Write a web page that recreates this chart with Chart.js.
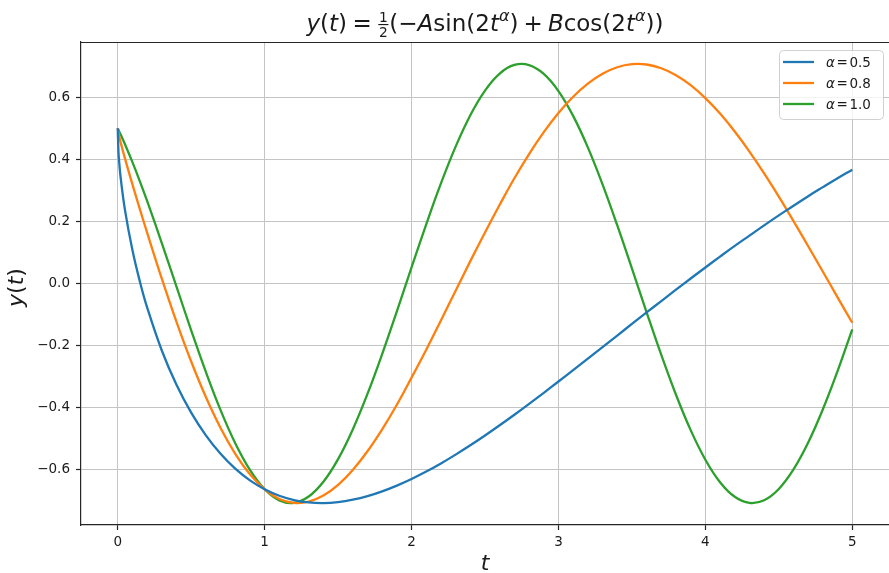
<!DOCTYPE html>
<html>
<head>
<meta charset="utf-8">
<script src="https://cdn.jsdelivr.net/npm/chart.js@4/dist/chart.umd.min.js"></script>
<style>
  html, body { margin: 0; padding: 0; background: #ffffff; }
  canvas { display: block; }
</style>
</head>
<body>
<canvas id="chart" width="889" height="573" style="width:889px;height:573px"></canvas>
<script>
// Sample times t
const tValues = [0, 0.005, 0.01, 0.02, 0.05, 0.1, 0.15, 0.2,
  0.3, 0.4, 0.5, 0.6, 0.7, 0.8, 0.9, 1.0, 1.1, 1.2, 1.3, 1.4, 1.5, 1.6, 1.7, 1.8, 1.9,
  2.0, 2.1, 2.2, 2.3, 2.4, 2.5, 2.6, 2.7, 2.8, 2.9, 3.0, 3.1, 3.2, 3.3, 3.4, 3.5, 3.6,
  3.7, 3.8, 3.9, 4.0, 4.1, 4.2, 4.3, 4.4, 4.5, 4.6, 4.7, 4.8, 4.9, 5.0];

// y(t) for alpha = 0.5
const yAlpha05 = [0.5, 0.4245, 0.3907, 0.3406, 0.2347, 0.1078, 0.0077, -0.0769,
  -0.2157, -0.3263, -0.4160, -0.4891, -0.5486, -0.5964, -0.6341, -0.6627, -0.6836, -0.6974,
  -0.7051, -0.7071, -0.7040, -0.6964, -0.6850, -0.6695, -0.6510,
  -0.6297, -0.6058, -0.5796, -0.5512, -0.5212, -0.4896, -0.4567, -0.4227, -0.3878, -0.3520,
  -0.3157, -0.2790, -0.2420, -0.2048, -0.1676, -0.1303, -0.0932,
  -0.0565, -0.0200, 0.0161, 0.0516, 0.0867, 0.1211, 0.1542, 0.1873, 0.2194, 0.2502,
  0.2812, 0.3104, 0.3391, 0.3667];

// y(t) for alpha = 0.8
const yAlpha08 = [0.5, 0.4854, 0.4743, 0.4544, 0.4012, 0.3193, 0.2405, 0.1637,
  0.0156, -0.1236, -0.2513, -0.3657, -0.4653, -0.5484, -0.6145, -0.6627, -0.6940, -0.7065,
  -0.7028, -0.6831, -0.6485, -0.6003, -0.5402, -0.4696, -0.3905,
  -0.3031, -0.2132, -0.1189, -0.0232, 0.0721, 0.1645, 0.2535, 0.3389, 0.4169, 0.4874,
  0.5492, 0.6016, 0.6439, 0.6756, 0.6964, 0.7063, 0.7053,
  0.6933, 0.6709, 0.6389, 0.5971, 0.5472, 0.4894, 0.4249, 0.3547, 0.2797, 0.2009,
  0.1200, 0.0379, -0.0446, -0.1264];

// y(t) for alpha = 1.0
const yAlpha10 = [0.5, 0.4950, 0.4899, 0.4796, 0.4476, 0.3907, 0.3299, 0.2658,
  0.1304, -0.0103, -0.1506, -0.2848, -0.4077, -0.5144, -0.6005, -0.6627, -0.6985, -0.7065,
  -0.6862, -0.6386, -0.5656, -0.4700, -0.3557, -0.2272, -0.0896,
  0.0516, 0.1907, 0.3222, 0.4408, 0.5419, 0.6213, 0.6760, 0.7038, 0.7035, 0.6751,
  0.6198, 0.5398, 0.4384, 0.3194, 0.1877, 0.0485, -0.0927,
  -0.2301, -0.3583, -0.4723, -0.5675, -0.6400, -0.6870, -0.7066, -0.6980, -0.6616, -0.5989,
  -0.5123, -0.4052, -0.2820, -0.1476];

const alphaLabels = ['0.5', '0.8', '1.0'];
const xTicks = [0, 1, 2, 3, 4, 5];
const yTicks = [-0.6, -0.4, -0.2, 0.0, 0.2, 0.4, 0.6];

const FAMILY = '"DejaVu Sans", "Liberation Sans", sans-serif';
const COLORS = ['#1f77b4', '#ff7f0e', '#2ca02c'];
const INK = '#1a1a1a';

function fontStr(size, italic) {
  return (italic ? 'italic ' : '') + size + 'px ' + FAMILY;
}

// Lay out a run of math-like text pieces: plain, italic, superscript, gaps and a small fraction
function layoutRich(ctx, segs, size) {
  let w = 0;
  const items = segs.map(s => {
    let item;
    if (s.gap) {
      item = { s, x: w, w: s.gap * size };
    } else if (s.frac) {
      const fs = size * 0.6;
      ctx.font = fontStr(fs, false);
      const fw = Math.max(ctx.measureText(s.frac[0]).width, ctx.measureText(s.frac[1]).width) + size * 0.14;
      item = { s, x: w, w: fw, fs };
    } else {
      const fs = s.sup ? size * 0.7 : size;
      ctx.font = fontStr(fs, s.it);
      item = { s, x: w, w: ctx.measureText(s.t).width, fs };
    }
    w += item.w;
    return item;
  });
  return { items, width: w };
}

function drawRich(ctx, segs, x0, base, size, align) {
  const lay = layoutRich(ctx, segs, size);
  const start = align === 'center' ? x0 - lay.width / 2 : x0;
  ctx.textBaseline = 'alphabetic';
  for (const it of lay.items) {
    const s = it.s;
    const x = start + it.x;
    if (s.gap) continue;
    if (s.frac) {
      const barY = base - size * 0.28;
      ctx.font = fontStr(it.fs, false);
      ctx.textAlign = 'center';
      ctx.fillText(s.frac[0], x + it.w / 2, barY - size * 0.09);
      ctx.fillText(s.frac[1], x + it.w / 2, barY + size * 0.09 + it.fs * 0.73);
      ctx.fillRect(x + size * 0.04, barY - size * 0.025, it.w - size * 0.08, Math.max(1, size * 0.05));
      continue;
    }
    ctx.textAlign = 'left';
    ctx.font = fontStr(it.fs, s.it);
    ctx.fillText(s.t, x, s.sup ? base - size * 0.42 : base);
  }
  return lay.width;
}

const titleSegs = [
  { t: 'y', it: 1 }, { t: '(' }, { t: 't', it: 1 }, { t: ')' }, { gap: 0.24 }, { t: '=' }, { gap: 0.24 },
  { frac: ['1', '2'] }, { t: '(\u2212' }, { t: 'A', it: 1 }, { t: 'sin(2' }, { t: 't', it: 1 },
  { t: '\u03b1', it: 1, sup: 1 }, { t: ')' }, { gap: 0.22 }, { t: '+' }, { gap: 0.22 },
  { t: 'B', it: 1 }, { t: 'cos(2' }, { t: 't', it: 1 }, { t: '\u03b1', it: 1, sup: 1 }, { t: '))' }
];

// Title, axis titles, top frame and legend
const decorations = {
  id: 'decorations',
  afterDraw(chart) {
    const ctx = chart.ctx;
    const a = chart.chartArea;
    ctx.save();

    // frame on the top side
    ctx.strokeStyle = '#262626';
    ctx.lineWidth = 1.2;
    ctx.beginPath();
    ctx.moveTo(a.left, a.top + 0.5);
    ctx.lineTo(a.right, a.top + 0.5);
    ctx.stroke();

    ctx.fillStyle = INK;
    // title
    drawRich(ctx, titleSegs, (a.left + a.right) / 2, 31, 23, 'center');

    // x axis title
    drawRich(ctx, [{ t: 't', it: 1 }], (a.left + a.right) / 2, 570, 22, 'center');

    // y axis title (rotated)
    ctx.save();
    ctx.translate(23, (a.top + a.bottom) / 2 + 4);
    ctx.rotate(-Math.PI / 2);
    drawRich(ctx, [{ t: 'y', it: 1 }, { t: '(' }, { t: 't', it: 1 }, { t: ')' }], 0, 0, 22, 'center');
    ctx.restore();

    // legend
    const bx = 779, by = 50, bw = 104, bh = 69, r = 4;
    ctx.fillStyle = 'rgba(255,255,255,0.8)';
    ctx.strokeStyle = 'rgba(204,204,204,0.9)';
    ctx.lineWidth = 1;
    ctx.beginPath();
    ctx.roundRect(bx + 0.5, by + 0.5, bw, bh, r);
    ctx.fill();
    ctx.stroke();

    chart.data.datasets.forEach((ds, i) => {
      const y = 62 + i * 21;
      ctx.strokeStyle = ds.borderColor;
      ctx.lineWidth = 2.3;
      ctx.beginPath();
      ctx.moveTo(783, y);
      ctx.lineTo(814, y);
      ctx.stroke();
      ctx.fillStyle = INK;
      drawRich(ctx, [{ t: '\u03b1', it: 1 }, { gap: 0.12 }, { t: '=' }, { gap: 0.12 }, { t: alphaLabels[i] }],
        826, y + 5, 13.5, 'left');
    });

    ctx.restore();
  }
};

const seriesValues = [yAlpha05, yAlpha08, yAlpha10];
const datasets = seriesValues.map((ys, i) => ({
  label: '\u03b1 = ' + alphaLabels[i],
  data: tValues.map((t, k) => ({ x: t, y: ys[k] })),
  borderColor: COLORS[i],
  backgroundColor: COLORS[i],
  borderWidth: 2.3,
  pointRadius: 0,
  fill: false,
  tension: 0.4
}));

new Chart(document.getElementById('chart'), {
  type: 'line',
  data: { datasets },
  options: {
    responsive: false,
    animation: false,
    devicePixelRatio: 1,
    layout: { padding: { top: 42, left: 0, right: 0, bottom: 0 } },
    plugins: { legend: { display: false }, title: { display: false }, tooltip: { enabled: false } },
    scales: {
      x: {
        type: 'linear',
        min: -0.25,
        max: 5.25,
        afterBuildTicks: s => { s.ticks = xTicks.map(v => ({ value: v })); },
        afterFit: s => { s.height = 48; },
        ticks: {
          callback: v => String(v),
          font: { family: FAMILY, size: 13.5 },
          color: INK,
          padding: 4,
          maxRotation: 0,
          autoSkip: false
        },
        grid: { color: '#c4c4c4', lineWidth: 1, tickLength: 5, tickColor: '#262626', tickWidth: 1.2 },
        border: { color: '#262626', width: 1.2 }
      },
      y: {
        min: -0.7778,
        max: 0.7778,
        afterBuildTicks: s => { s.ticks = yTicks.map(v => ({ value: v })); },
        afterFit: s => { s.width = 81; },
        ticks: {
          callback: v => (v < 0 ? '\u2212' : '') + Math.abs(v).toFixed(1),
          font: { family: FAMILY, size: 13.5 },
          color: INK,
          padding: 6,
          autoSkip: false
        },
        grid: { color: '#c4c4c4', lineWidth: 1, tickLength: 5, tickColor: '#262626', tickWidth: 1.2 },
        border: { color: '#262626', width: 1.2 }
      }
    }
  },
  plugins: [decorations]
});
</script>
</body>
</html>
